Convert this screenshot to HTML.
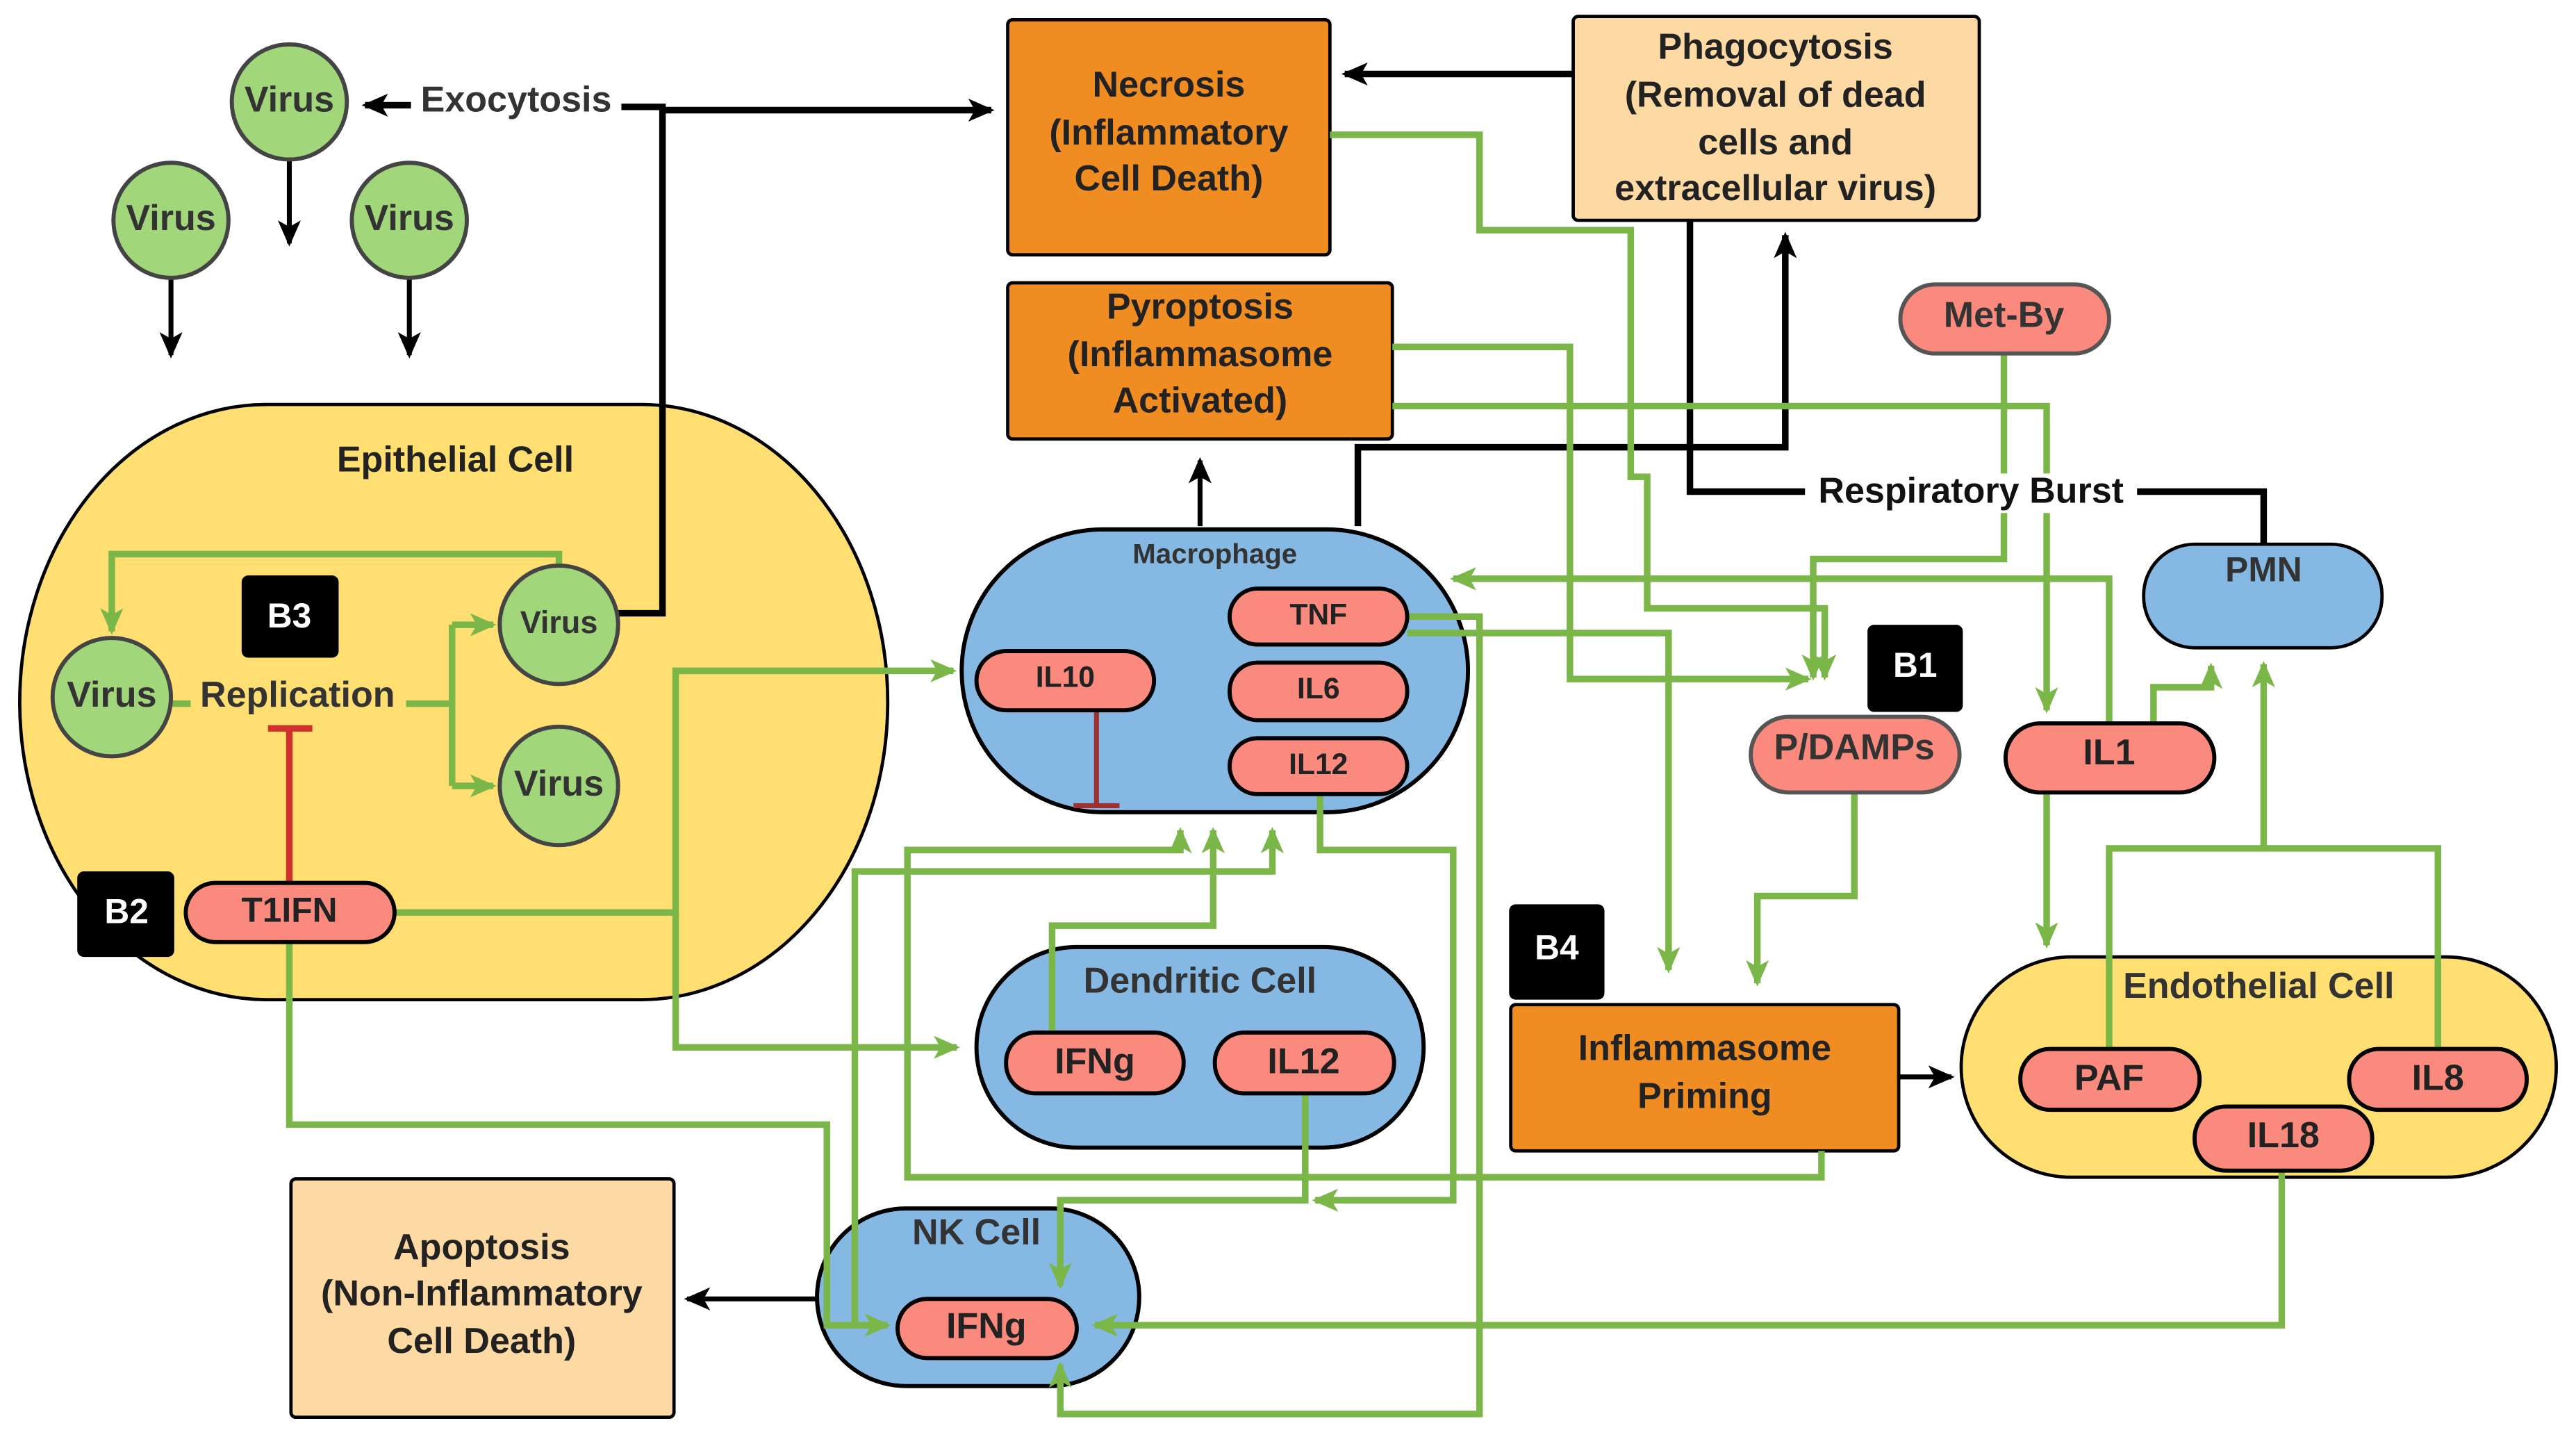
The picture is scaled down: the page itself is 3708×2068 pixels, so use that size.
<!DOCTYPE html>
<html><head><meta charset="utf-8"><style>
html,body{margin:0;padding:0;background:#fff;}
svg{display:block;}
text{font-family:"Liberation Sans",sans-serif;font-weight:bold;fill:#222;text-anchor:middle;dominant-baseline:middle;}
text.w{fill:#fff;}
</style></head><body>
<svg width="3708" height="2068" viewBox="0 0 1567 874" preserveAspectRatio="none" xmlns="http://www.w3.org/2000/svg">
<defs>
<marker id="ag" markerWidth="16" markerHeight="14" refX="14" refY="7" orient="auto" markerUnits="userSpaceOnUse"><path d="M0,0 L16,7 L0,14 L4,7 Z" fill="#7ab648"/></marker>
<marker id="abk" markerWidth="16" markerHeight="14" refX="14" refY="7" orient="auto" markerUnits="userSpaceOnUse"><path d="M0,0 L16,7 L0,14 L4,7 Z" fill="#000"/></marker>
</defs>
<rect x="12" y="246" width="528" height="362" rx="150" ry="181" fill="#ffdf71" stroke="#000" stroke-width="2"/>
<text x="277" y="281" font-size="22">Epithelial Cell</text>
<rect x="585" y="322" width="308" height="172" rx="86" fill="#85b9e4" stroke="#000" stroke-width="2.5"/>
<text x="739" y="338" font-size="17" style="fill:#333">Macrophage</text>
<rect x="594" y="576" width="272" height="122" rx="61" fill="#85b9e4" stroke="#000" stroke-width="2.5"/>
<text x="730" y="598" font-size="22" style="fill:#333">Dendritic Cell</text>
<rect x="497" y="735" width="196" height="108" rx="54" fill="#85b9e4" stroke="#000" stroke-width="2.5"/>
<text x="594" y="751" font-size="22" style="fill:#333">NK Cell</text>
<rect x="1193" y="582" width="362" height="134" rx="67" fill="#ffdf71" stroke="#000" stroke-width="2"/>
<text x="1374" y="601" font-size="22" style="fill:#333">Endothelial Cell</text>
<rect x="1304" y="331" width="145" height="63" rx="31" fill="#85b9e4" stroke="#000" stroke-width="2"/>
<text x="1377" y="348" font-size="21" style="fill:#333">PMN</text>

<rect x="613" y="12" width="196" height="143" rx="3" fill="#f08d22" stroke="#000" stroke-width="2"/>
<text x="711" y="53" font-size="22">Necrosis</text><text x="711" y="82" font-size="22">(Inflammatory</text><text x="711" y="110" font-size="22">Cell Death)</text>
<rect x="613" y="172" width="234" height="95" rx="3" fill="#f08d22" stroke="#000" stroke-width="2"/>
<text x="730" y="188" font-size="22">Pyroptosis</text><text x="730" y="217" font-size="22">(Inflammasome</text><text x="730" y="245" font-size="22">Activated)</text>
<rect x="957" y="10" width="247" height="124" rx="3" fill="#fdd9a3" stroke="#000" stroke-width="2"/>
<text x="1080" y="30" font-size="22">Phagocytosis</text><text x="1080" y="59" font-size="22">(Removal of dead</text><text x="1080" y="88" font-size="22">cells and</text><text x="1080" y="116" font-size="22">extracellular virus)</text>
<rect x="177" y="717" width="233" height="145" rx="3" fill="#fdd9a3" stroke="#000" stroke-width="2"/>
<text x="293" y="760" font-size="22">Apoptosis</text><text x="293" y="788" font-size="22">(Non-Inflammatory</text><text x="293" y="817" font-size="22">Cell Death)</text>
<rect x="919" y="611" width="236" height="89" rx="3" fill="#f08d22" stroke="#000" stroke-width="2"/>
<text x="1037" y="639" font-size="22">Inflammasome</text><text x="1037" y="668" font-size="22">Priming</text>

<g stroke="#000" stroke-width="4" fill="none">
<path d="M378,65 L403,65 L403,373 L375,373"/>
<path d="M403,67 L603,67" marker-end="url(#abk)"/>
<path d="M250,64 L222,64" marker-end="url(#abk)"/>
<path d="M957,45 L818,45" marker-end="url(#abk)"/>
<path d="M1028,134 L1028,299 L1377,299 L1377,331"/>
<path d="M826,320 L826,272 L1086,272 L1086,143" marker-end="url(#abk)"/>
</g>
<g stroke="#000" stroke-width="3" fill="none">
<path d="M176,98 L176,148" marker-end="url(#abk)"/>
<path d="M104,170 L104,216" marker-end="url(#abk)"/>
<path d="M249,170 L249,216" marker-end="url(#abk)"/>
<path d="M730,320 L730,280" marker-end="url(#abk)"/>
<path d="M1155,655 L1187,655" marker-end="url(#abk)"/>
<path d="M497,790 L418,790" marker-end="url(#abk)"/>
</g>
<text x="314" y="62" font-size="22" style="fill:#333">Exocytosis</text>

<g stroke="#7ab648" stroke-width="4" fill="none">
<path d="M340,345 L340,337 L68,337 L68,384" marker-end="url(#ag)"/>
<path d="M104,428 L116,428"/>
<path d="M247,428 L275,428 M275,380 L275,478"/>
<path d="M275,380 L300,380" marker-end="url(#ag)"/>
<path d="M275,478 L300,478" marker-end="url(#ag)"/>
<path d="M809,82 L900,82 L900,140 L992,140 L992,290 L1002,290 L1002,370 L1110,370 L1110,412" marker-end="url(#ag)"/>
<path d="M847,211 L955,211 L955,413 L1100,413" marker-end="url(#ag)"/>
<path d="M847,247 L1245,247 L1245,432" marker-end="url(#ag)"/>
<path d="M1219,215 L1219,340 L1103,340 L1103,412" marker-end="url(#ag)"/>
<path d="M856,375 L900,375 L900,860 L645,860 L645,830" marker-end="url(#ag)"/>
<path d="M856,385 L1015,385 L1015,590" marker-end="url(#ag)"/>
<path d="M1128,482 L1128,545 L1069,545 L1069,598" marker-end="url(#ag)"/>
<path d="M1283,440 L1283,352 L884,352" marker-end="url(#ag)"/>
<path d="M1310,440 L1310,418 L1345,418 L1345,405" marker-end="url(#ag)"/>
<path d="M1245,482 L1245,575" marker-end="url(#ag)"/>
<path d="M1283,638 L1283,516 L1483,516 L1483,638 M1377,516 L1377,404" marker-end="url(#ag)"/>
<path d="M1388,712 L1388,806 L666,806" marker-end="url(#ag)"/>
<path d="M1108,700 L1108,716 L552,716 L552,517 L718,517 L718,505" marker-end="url(#ag)"/>
<path d="M240,555 L411,555 L411,408 L580,408" marker-end="url(#ag)"/>
<path d="M411,555 L411,637 L582,637" marker-end="url(#ag)"/>
<path d="M176,573 L176,684 L503,684 L503,806 L540,806" marker-end="url(#ag)"/>
<path d="M640,628 L640,563 L738,563 L738,505" marker-end="url(#ag)"/>
<path d="M520,806 L520,530 L774,530 L774,505" marker-end="url(#ag)"/>
<path d="M794,665 L794,730 L645,730 L645,782" marker-end="url(#ag)"/>
<path d="M803,483 L803,517 L884,517 L884,730 L800,730" marker-end="url(#ag)"/>
</g>
<rect x="1098" y="288" width="202" height="24" fill="#fff"/>
<text x="1199" y="300" font-size="22" style="fill:#111">Respiratory Burst</text>

<g stroke="#d0312d" stroke-width="4">
<path d="M176,537 L176,443 M163,443 L190,443"/>
</g>
<g stroke="#a0302d" stroke-width="3">
<path d="M667,432 L667,490 M653,490 L681,490"/>
</g>

<g fill="#a1d77a" stroke="#444" stroke-width="2.5">
<circle cx="176" cy="62" r="35"/><circle cx="104" cy="134" r="35"/><circle cx="249" cy="134" r="35"/>
<circle cx="68" cy="424" r="36"/><circle cx="340" cy="380" r="36"/><circle cx="340" cy="478" r="36"/>
</g>
<text x="176" y="62" font-size="22" style="fill:#333">Virus</text>
<text x="104" y="134" font-size="22" style="fill:#333">Virus</text>
<text x="249" y="134" font-size="22" style="fill:#333">Virus</text>
<text x="68" y="424" font-size="22" style="fill:#333">Virus</text>
<text x="340" y="380" font-size="19" style="fill:#333">Virus</text>
<text x="340" y="478" font-size="22" style="fill:#333">Virus</text>
<text x="181" y="424" font-size="22" style="fill:#333">Replication</text>

<g fill="#fa8a7e" stroke="#000" stroke-width="2.5">
<rect x="113" y="537" width="127" height="36" rx="18"/>
<rect x="748" y="358" width="108" height="34" rx="17"/>
<rect x="748" y="403" width="108" height="35" rx="17"/>
<rect x="748" y="449" width="108" height="34" rx="17"/>
<rect x="594" y="396" width="108" height="36" rx="18"/>
<rect x="612" y="628" width="108" height="37" rx="18"/>
<rect x="739" y="628" width="109" height="37" rx="18"/>
<rect x="546" y="790" width="109" height="36" rx="18"/>
<rect x="1229" y="638" width="109" height="37" rx="18"/>
<rect x="1429" y="638" width="108" height="37" rx="18"/>
<rect x="1335" y="673" width="108" height="39" rx="19"/>
<rect x="1220" y="440" width="127" height="42" rx="21"/>
</g>
<g fill="#fa8a7e" stroke="#555" stroke-width="2.5">
<rect x="1156" y="173" width="127" height="42" rx="21"/>
<rect x="1065" y="436" width="127" height="46" rx="23"/>
</g>
<text x="176" y="555" font-size="21">T1IFN</text>
<text x="802" y="375" font-size="18">TNF</text>
<text x="802" y="420" font-size="18">IL6</text>
<text x="802" y="466" font-size="18">IL12</text>
<text x="648" y="413" font-size="18">IL10</text>
<text x="666" y="647" font-size="22">IFNg</text>
<text x="793" y="647" font-size="22">IL12</text>
<text x="600" y="808" font-size="22">IFNg</text>
<text x="1283" y="657" font-size="22">PAF</text>
<text x="1483" y="657" font-size="22">IL8</text>
<text x="1389" y="692" font-size="22">IL18</text>
<text x="1283" y="459" font-size="22">IL1</text>
<text x="1219" y="193" font-size="22" style="fill:#333">Met-By</text>
<text x="1128" y="456" font-size="22" style="fill:#333">P/DAMPs</text>

<g fill="#000">
<rect x="147" y="350" width="59" height="50" rx="4"/>
<rect x="47" y="530" width="59" height="52" rx="4"/>
<rect x="1136" y="380" width="58" height="53" rx="4"/>
<rect x="918" y="550" width="58" height="58" rx="4"/>
</g>
<text x="176" y="376" font-size="21" class="w">B3</text>
<text x="77" y="556" font-size="21" class="w">B2</text>
<text x="1165" y="406" font-size="21" class="w">B1</text>
<text x="947" y="578" font-size="21" class="w">B4</text>
</svg>
</body></html>
